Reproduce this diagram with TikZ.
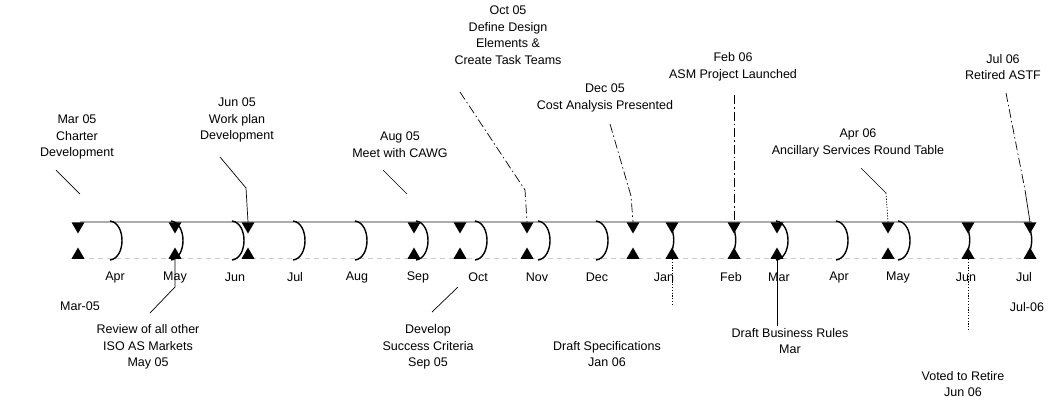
\documentclass[tikz,border=0pt]{standalone}
\usepackage{fontspec}
\setmainfont{Liberation Sans}
\usetikzlibrary{shapes.geometric}

\begin{document}
\begin{tikzpicture}[x=1pt,y=-1pt,
  lbl/.style={font=\fontsize{12.5}{16.5}\selectfont, align=center, inner sep=0pt},
  mon/.style={font=\fontsize{12.5}{14}\selectfont, inner sep=0pt},
  tdown/.style={regular polygon, regular polygon sides=3, shape border rotate=180,
                fill=black, minimum size=15pt, inner sep=0pt},
  tup/.style={regular polygon, regular polygon sides=3,
              fill=black, minimum size=15pt, inner sep=0pt},
  monthtick/.style={line width=1.4pt},
  conn/.style={line width=0.7pt},
  dashdot/.style={conn, dash pattern=on 9pt off 3pt on 1.5pt off 3pt},
  dotline/.style={conn, dash pattern=on 1.2pt off 1.6pt}
]
\useasboundingbox (0,0) rectangle (1060,400);

% axis rails
\draw[gray!65, line width=2pt] (80,222) -- (1032,222);
\draw[gray!40, line width=0.6pt, dash pattern=on 5pt off 4pt] (80,258) -- (1032,258);

% month ticks
\foreach \xb in {122,183,244,305,367,428,487,550,608,788,848,910}
  \draw[monthtick] (\xb-12,221) .. controls (\xb+4,223) and (\xb+4,258) .. (\xb-12,260);
\foreach \xb in {672,734,968,1030}
  \draw[monthtick] (\xb-2,224) .. controls (\xb+3,236) and (\xb+3,244) .. (\xb-2,256);

% month labels
\foreach \xm/\mn in {115/Apr,175/May,235/Jun,295/Jul,357/Aug,418/Sep,478/Oct,537/Nov,
                     597/Dec,664/Jan,731/Feb,779/Mar,839/Apr,898/May,966/Jun,1024/Jul}
  \node[mon] at (\xm,277) {\mn};

% event markers
\foreach \nm/\xm in {mar/78,may/175,jun/248,sep/414,oct/460,nov/527,dec/633,
                     jan/672,feb/734,mart/777,mayt/888,junt/968,jul/1030}{
  \node[tdown] (\nm-t) at (\xm,226) {};
  \node[tup]   (\nm-b) at (\xm,255) {};
}

% axis end labels
\node[mon] (start) at (80,306) {Mar-05};
\node[mon] (end) at (1027,307) {Jul-06};

% events above the axis
\node[lbl] (charter) at (77,137) {Mar 05\\Charter\\Development};
\node[lbl] (workplan) at (237,120) {Jun 05\\Work plan\\Development};
\node[lbl] (cawg) at (400,144.5) {Aug 05\\Meet with CAWG};
\node[lbl] (design) at (508,35) {Oct 05\\Define Design\\Elements \&\\Create Task Teams};
\node[lbl] (cost) at (605,98) {Dec 05\\Cost Analysis Presented};
\node[lbl] (asm) at (733,67) {Feb 06\\ASM Project Launched};
\node[lbl] (round) at (858,143) {Apr 06\\Ancillary Services Round Table};
\node[lbl] (astf) at (1003,67) {Jul 06\\Retired ASTF};

% events below the axis
\node[lbl] (review) at (148,347) {Review of all other\\ISO AS Markets\\May 05};
\node[lbl] (success) at (428,347) {Develop\\Success Criteria\\Sep 05};
\node[lbl] (spec) at (607,354) {Draft Specifications\\Jan 06};
\node[lbl] (rules) at (790,341) {Draft Business Rules\\Mar};
\node[lbl] (voted) at (963,384) {Voted to Retire\\Jun 06};

% leader lines above
\coordinate (a1) at (56,170);   \coordinate (a2) at (80,194);
\draw[conn] (a1) -- (a2);
\coordinate (b1) at (220,157);  \coordinate (b2) at (246,188);
\draw[conn] (b1) -- (b2) -- (jun-t.north);
\coordinate (c1) at (383,170);  \coordinate (c2) at (407,194);
\draw[conn] (c1) -- (c2);
\coordinate (d1) at (460,92);   \coordinate (d2) at (525,190);
\draw[dashdot] (d1) -- (d2) -- (nov-t.north);
\coordinate (e1) at (610,124);  \coordinate (e2) at (631,196);
\draw[dashdot] (e1) -- (e2) -- (dec-t.north);
\coordinate (f1) at (734,95);
\draw[dashdot] (f1) -- (feb-t.north);
\coordinate (g1) at (861,168);  \coordinate (g2) at (886,193);
\draw[conn] (g1) -- (g2);
\draw[dotline] (g2) -- (mayt-t.north);
\coordinate (h1) at (1006,93);  \coordinate (h2) at (1025,190);
\draw[dashdot] (h1) -- (h2);
\draw[conn] (h2) -- (jul-t.north);

% leader lines below
\coordinate (i1) at (175,287);  \coordinate (i2) at (150,313);
\draw[conn] (may-b.south) -- (i1) -- (i2);
\coordinate (j1) at (458,287);  \coordinate (j2) at (432,312);
\draw[conn] (j1) -- (j2);
\coordinate (k1) at (672,306);
\draw[dotline] (jan-b.south) -- (k1);
\coordinate (l1) at (777,326);
\draw[conn] (mart-b.south) -- (l1);
\coordinate (m1) at (968,330);
\draw[dotline] (junt-b.south) -- (m1);
\end{tikzpicture}
\end{document}
